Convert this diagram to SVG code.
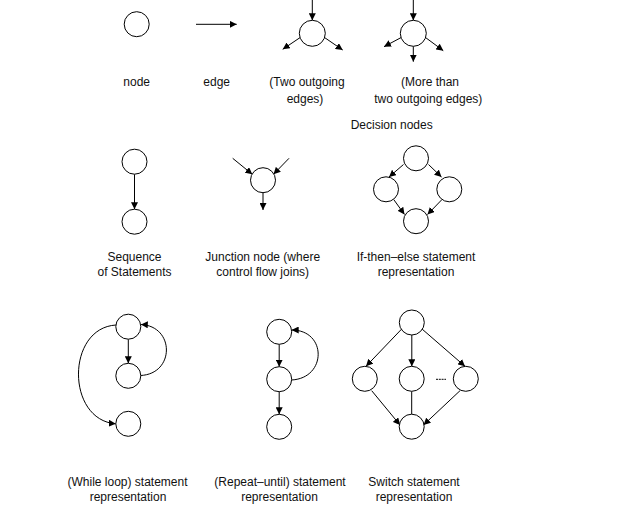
<svg xmlns="http://www.w3.org/2000/svg" width="623" height="505" viewBox="0 0 623 505">
<defs>
<marker id="arr" viewBox="0 0 8 8" refX="8" refY="4" markerWidth="7" markerHeight="7" markerUnits="userSpaceOnUse" orient="auto">
<path d="M0,0 L8,4 L0,8 z" fill="#000"/>
</marker>
<style>
circle{fill:#fff;stroke:#000;stroke-width:1}
.e{stroke:#000;stroke-width:1;fill:none}
.a{marker-end:url(#arr)}
text{font-family:"Liberation Sans",Arial,sans-serif;font-size:12px;fill:#111;text-anchor:middle}
</style>
</defs>
<rect width="623" height="505" fill="#fff"/>

<g id="connectors">
<!-- legend -->
<line class="e a" x1="196" y1="24.3" x2="236.7" y2="24.3"/>
<line class="e a" x1="312.3" y1="0" x2="312.3" y2="20.3"/>
<line class="e a" x1="300.2" y1="37.5" x2="282.7" y2="49.3"/>
<line class="e a" x1="324.5" y1="37.5" x2="342.7" y2="50"/>
<line class="e a" x1="413.3" y1="0" x2="413.3" y2="20.3"/>
<line class="e a" x1="401.2" y1="37.5" x2="384" y2="46.7"/>
<line class="e a" x1="413.3" y1="46.3" x2="413.3" y2="61.7"/>
<line class="e a" x1="425.5" y1="37.5" x2="443.3" y2="50.7"/>
<!-- sequence -->
<line class="e a" x1="134.5" y1="174.2" x2="134.5" y2="209.2"/>
<!-- junction -->
<line class="e a" x1="232.7" y1="158.3" x2="252.3" y2="174.3"/>
<line class="e a" x1="289" y1="158.3" x2="273.5" y2="174.3"/>
<line class="e a" x1="263" y1="192.7" x2="263" y2="210"/>
<!-- if then else -->
<line class="e a" x1="403.5" y1="164.5" x2="389" y2="177"/>
<line class="e a" x1="428.5" y1="164.5" x2="441.5" y2="177"/>
<line class="e a" x1="393.7" y1="199.5" x2="404.5" y2="214.5"/>
<line class="e a" x1="442" y1="199.5" x2="427.5" y2="214.5"/>
<!-- while -->
<line class="e a" x1="128.3" y1="339.2" x2="128.3" y2="363.3"/>
<path class="e a" d="M140.5,375.5 C175,374 175,326 140.8,324.5"/>
<path class="e a" d="M116,325 C66,328 66,420 115.8,423.8"/>
<!-- repeat until -->
<line class="e a" x1="279.2" y1="344.3" x2="279.2" y2="366.7"/>
<line class="e a" x1="279.2" y1="391.7" x2="279.2" y2="414.3"/>
<path class="e a" d="M291.7,380 C327,378 327,330 291.7,330"/>
<!-- switch -->
<line class="e a" x1="401.7" y1="329" x2="366" y2="366.3"/>
<line class="e a" x1="411.8" y1="335" x2="411.8" y2="366.3"/>
<line class="e a" x1="422" y1="329" x2="465" y2="366.3"/>
<line class="e a" x1="371.7" y1="390.7" x2="400" y2="425"/>
<line class="e" x1="411.7" y1="391.3" x2="411.7" y2="414.2"/>
<line class="e a" x1="460" y1="390.7" x2="423.5" y2="425"/>
<line class="e" x1="436" y1="379.3" x2="446" y2="379.3" stroke-dasharray="2 0.8"/>
</g>

<g id="legend-node"><circle cx="136.7" cy="24.2" r="12.5"/><text x="136.7" y="86">node</text></g>
<g id="legend-edge"><text x="216.7" y="86">edge</text></g>
<g id="decision-two"><circle cx="312.3" cy="33.3" r="13"/><text x="307" y="86">(Two outgoing</text><text x="305" y="102.7">edges)</text></g>
<g id="decision-more"><circle cx="413.3" cy="33.3" r="13"/><text x="430" y="86">(More than</text><text x="428.3" y="102.7">two outgoing edges)</text></g>
<g id="decision-label"><text x="391.7" y="129.3">Decision nodes</text></g>

<g id="sequence"><circle cx="134.5" cy="161.7" r="12.5"/><circle cx="134.5" cy="221.7" r="12.5"/><text x="134.5" y="260.7">Sequence</text><text x="134.5" y="276">of Statements</text></g>
<g id="junction"><circle cx="263" cy="180.2" r="12.5"/><text x="262.7" y="260.7">Junction node (where</text><text x="262.7" y="276">control flow joins)</text></g>
<g id="ifthenelse"><circle cx="416" cy="158.3" r="12.5"/><circle cx="386" cy="189.3" r="12.5"/><circle cx="449.3" cy="189.3" r="12.5"/><circle cx="416" cy="221.2" r="12.5"/><text x="416" y="260.7">If-then–else statement</text><text x="416" y="276">representation</text></g>

<g id="while"><circle cx="128.3" cy="326.7" r="12.5"/><circle cx="128.3" cy="375.8" r="12.5"/><circle cx="128.3" cy="423.8" r="12.5"/><text x="127.5" y="485.5">(While loop) statement</text><text x="128" y="501">representation</text></g>
<g id="repeat"><circle cx="279.2" cy="331.8" r="12.5"/><circle cx="279.2" cy="379.2" r="12.5"/><circle cx="279.2" cy="426.8" r="12.5"/><text x="280" y="485.5">(Repeat–until) statement</text><text x="279.5" y="501">representation</text></g>
<g id="switch"><circle cx="411.8" cy="322.5" r="12.5"/><circle cx="364.8" cy="378.8" r="12.5"/><circle cx="411.7" cy="378.8" r="12.5"/><circle cx="465.8" cy="378.8" r="12.5"/><circle cx="411.7" cy="426.7" r="12.5"/><text x="414" y="485.5">Switch statement</text><text x="414" y="501">representation</text></g>
</svg>
